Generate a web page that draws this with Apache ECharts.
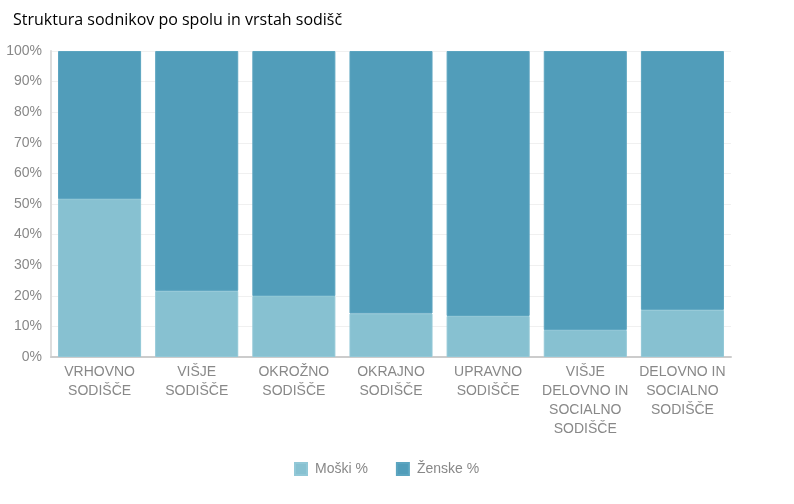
<!DOCTYPE html>
<html>
<head>
<meta charset="utf-8">
<script src="https://cdn.jsdelivr.net/npm/echarts@6/dist/echarts.min.js"></script>
<style>html,body{margin:0;padding:0;background:#fff}#c{width:794px;height:504px}</style>
</head>
<body>
<div id="c"></div>
<script>
const categories = ["VRHOVNO\nSODIŠČE","VIŠJE\nSODIŠČE","OKROŽNO\nSODIŠČE","OKRAJNO\nSODIŠČE","UPRAVNO\nSODIŠČE","VIŠJE\nDELOVNO IN\nSOCIALNO\nSODIŠČE","DELOVNO IN\nSOCIALNO\nSODIŠČE"];
const moski = [51.6, 21.6, 19.9, 14.2, 13.4, 8.8, 15.4];
const zenske = [48.4, 78.4, 80.1, 85.8, 86.6, 91.2, 84.6];
const yTicks = [0,10,20,30,40,50,60,70,80,90,100];

const chart = echarts.init(document.getElementById('c'), null, {renderer:'canvas'});
chart.setOption({
  animation:false,
  title:{text:'Struktura sodnikov po spolu in vrstah sodišč', left:8, top:7,
    textStyle:{fontFamily:'Open Sans', fontSize:16, fontWeight:'normal', color:'#000'}},
  grid:{left:51, right:63, top:51, bottom:147},
  legend:{bottom:23, left:289, itemWidth:12, itemHeight:12, itemGap:28, icon:'rect',
    textStyle:{fontFamily:'Liberation Sans', fontSize:14, color:'#888', padding:[0,0,0,3]},
    data:['Moški %','Ženske %']},
  xAxis:{type:'category', data:categories,
    axisLine:{lineStyle:{color:'#ccc', width:2}}, axisTick:{show:false},
    axisLabel:{interval:0, color:'#888', fontFamily:'Liberation Sans', fontSize:14, lineHeight:19, margin:6}},
  yAxis:{type:'value', min:0, max:100, interval:10,
    axisLine:{show:true, lineStyle:{color:'#ddd', width:2}}, axisTick:{show:false},
    splitLine:{lineStyle:{color:'#f0f0f0'}},
    axisLabel:{color:'#888', fontFamily:'Liberation Sans', fontSize:14, margin:9,
      formatter:function(v){return yTicks.indexOf(v)>=0 ? v+'%' : '';}}},
  series:[
    {name:'Moški %', type:'bar', stack:'s', data:moski, barCategoryGap:'14.5%',
      itemStyle:{color:'#87c1d1', borderColor:'#92c8d7', borderWidth:1}},
    {name:'Ženske %', type:'bar', stack:'s', data:zenske,
      itemStyle:{color:'#519dba', borderColor:'#5ca5c0', borderWidth:1}}
  ]
});
</script>
</body>
</html>
